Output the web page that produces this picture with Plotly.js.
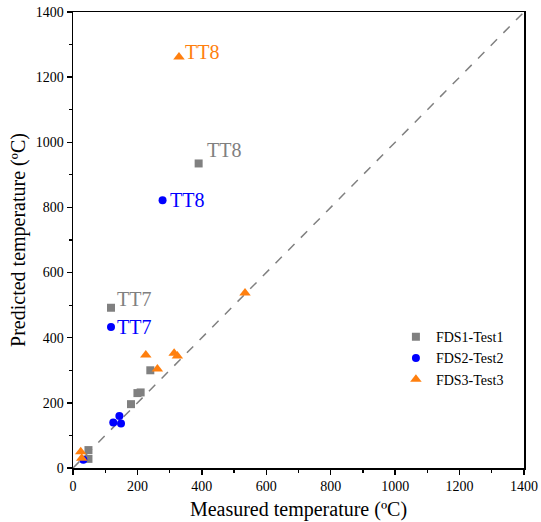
<!DOCTYPE html>
<html><head><meta charset="utf-8">
<script src="https://cdn.plot.ly/plotly-3.0.1.min.js"></script>
<style>html,body{margin:0;padding:0;background:#fff}</style>
</head><body><div id="chart" style="width:541px;height:522px"></div>
<script>
const fds1X = [390, 118, 240, 200, 210, 180, 48, 48];
const fds1Y = [935, 492, 300, 230, 232, 196, 55, 28];
const fds2X = [278, 118, 144, 125, 149, 32];
const fds2Y = [822, 433, 160, 140, 137, 25];
const fds3X = [329, 534, 226, 314, 324, 262, 24, 27];
const fds3Y = [1262, 537, 347, 352, 344, 304, 50, 30];
const refLine = [0, 1400];
const seriesNames = ['FDS1-Test1', 'FDS2-Test2', 'FDS3-Test3'];
const tickVals = [0, 200, 400, 600, 800, 1000, 1200, 1400];

const font = '"Times New Roman", "Liberation Serif", Times, serif';
const gray = '#808080', blue = '#0000ff', orange = '#ff7f0e';

const traces = [
  {x: refLine, y: refLine, mode: 'lines', line: {color: '#808080', dash: 'dash', width: 1.5}, showlegend: false, hoverinfo: 'skip'},
  {x: fds1X, y: fds1Y, mode: 'markers', name: seriesNames[0], marker: {symbol: 'square', color: gray, size: 8}},
  {x: fds2X, y: fds2Y, mode: 'markers', name: seriesNames[1], marker: {symbol: 'circle', color: blue, size: 8}},
  {x: fds3X, y: fds3Y, mode: 'markers', name: seriesNames[2], marker: {symbol: 'triangle-up', color: orange, size: 10}}
];

function ann(x, y, text, color, xs, ys) {
  return {x: x, y: y, xref: 'x', yref: 'y', text: text, showarrow: false, xanchor: 'left', yanchor: 'middle',
    xshift: xs, yshift: ys, font: {family: font, size: 20, color: color}};
}

const layout = {
  width: 541, height: 522,
  margin: {l: 73, r: 17, t: 12, b: 54},
  paper_bgcolor: '#fff', plot_bgcolor: '#fff',
  font: {family: font, color: '#000'},
  showlegend: true,
  legend: {x: 0.716, y: 0.322, xanchor: 'left', yanchor: 'top', bgcolor: 'rgba(0,0,0,0)',
    font: {family: font, size: 14}, tracegroupgap: 0},
  xaxis: {range: [0, 1400], tickvals: tickVals, showgrid: false, zeroline: false,
    showline: true, linecolor: '#000', linewidth: 1.5, mirror: true,
    ticks: 'outside', ticklen: 5, tickwidth: 1.5, tickcolor: '#000',
    minor: {dtick: 100, ticks: 'outside', ticklen: 3, tickwidth: 1.2, tickcolor: '#000'},
    tickfont: {family: font, size: 14, color: '#000'},
    title: {text: 'Measured temperature (ºC)', font: {family: font, size: 20}, standoff: 8}},
  yaxis: {range: [0, 1400], tickvals: tickVals, showgrid: false, zeroline: false,
    showline: true, linecolor: '#000', linewidth: 1.5, mirror: true,
    ticks: 'outside', ticklen: 5, tickwidth: 1.5, tickcolor: '#000',
    minor: {dtick: 100, ticks: 'outside', ticklen: 3, tickwidth: 1.2, tickcolor: '#000'},
    tickfont: {family: font, size: 14, color: '#000'},
    title: {text: 'Predicted temperature (ºC)', font: {family: font, size: 20}, standoff: 4}},
  annotations: [
    ann(fds3X[0], fds3Y[0], 'TT8', orange, 4, 5),
    ann(fds1X[0], fds1Y[0], 'TT8', gray, 6, 13),
    ann(fds2X[0], fds2Y[0], 'TT8', blue, 5, 0),
    ann(fds1X[1], fds1Y[1], 'TT7', gray, 4, 9),
    ann(fds2X[1], fds2Y[1], 'TT7', blue, 4, 0)
  ]
};

Plotly.newPlot('chart', traces, layout, {displayModeBar: false, staticPlot: true});
</script></body></html>
